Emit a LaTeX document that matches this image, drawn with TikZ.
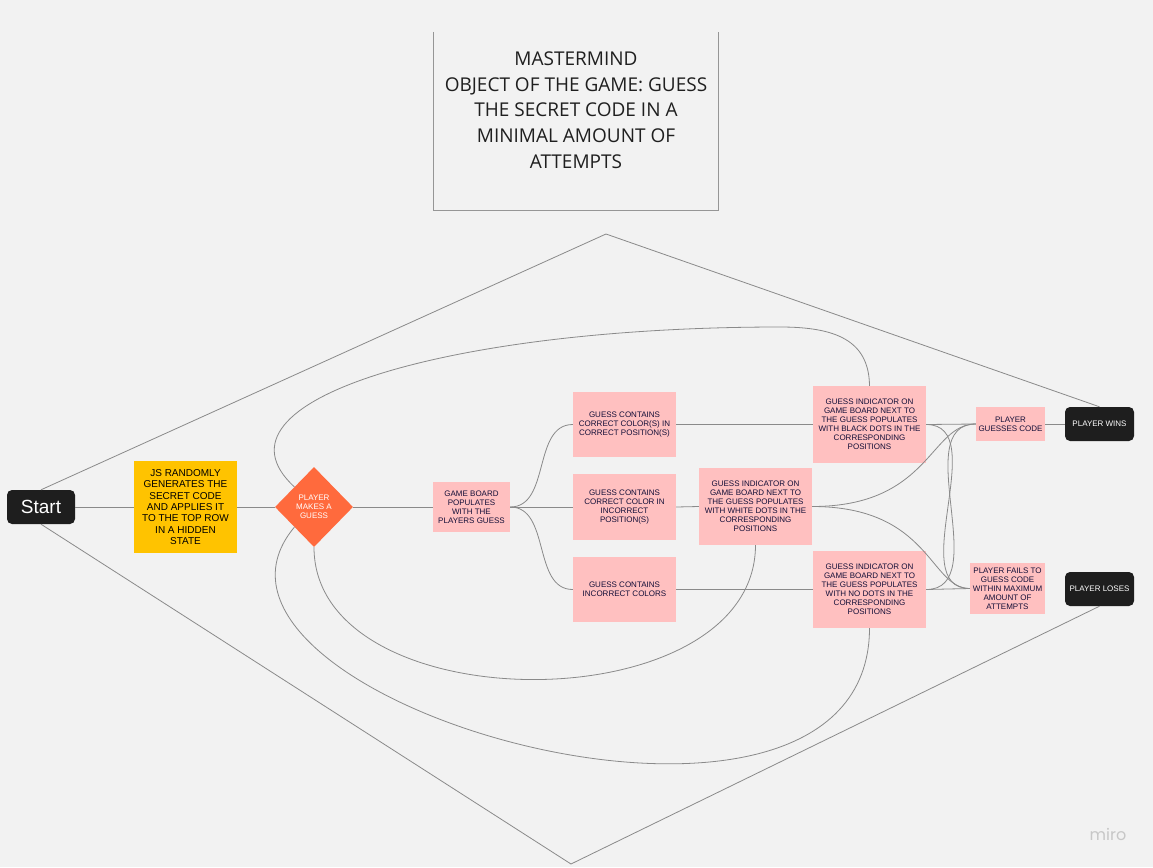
\documentclass[tikz,border=0pt]{standalone}
\usepackage{fontspec}
\setmainfont{Liberation Sans}
\newfontfamily\titlefont{Open Sans}
\newfontfamily\mirofont{Poppins}
\usetikzlibrary{shapes.geometric}
\definecolor{bg}{HTML}{F2F2F2}
\definecolor{pinkc}{HTML}{FFC0C0}
\definecolor{yel}{HTML}{FFC300}
\definecolor{orng}{HTML}{FF6A3D}
\definecolor{blk}{HTML}{1E1E1E}
\definecolor{ink}{HTML}{140F38}
\definecolor{lnc}{HTML}{8A8A8A}
\begin{document}
\begin{tikzpicture}[x=1pt,y=-1pt,
  conn/.style={draw=lnc, line width=0.8pt},
  pinkbox/.style={fill=pinkc, text=ink, font=\fontsize{8}{9}\selectfont, align=center, inner sep=0pt},
  darkbox/.style={fill=blk, text=white, rounded corners=5pt, inner sep=0pt, minimum width=69pt, minimum height=34pt, font=\fontsize{8}{9}\selectfont}
]
\fill[bg] (0,0) rectangle (1153,867);
\useasboundingbox (0,0) rectangle (1153,867);

% title
\node[minimum width=285pt, minimum height=178pt, inner sep=0pt] (frame) at (575.5,121) {};
\draw[draw=lnc!90] (frame.north west) -- (frame.south west) -- (frame.south east) -- (frame.north east);
\node[font=\titlefont\fontsize{19}{25.7}\selectfont, align=center, text=black!88, inner sep=0pt] (title) at (576,110)
  {MASTERMIND\\OBJECT OF THE GAME: GUESS\\THE SECRET CODE IN A\\MINIMAL AMOUNT OF\\ATTEMPTS};

% nodes
\node[fill=blk, text=white, rounded corners=5pt, minimum width=68pt, minimum height=34pt, inner sep=0pt, font=\fontsize{19}{19}\selectfont] (start) at (41,507) {Start};
\node[fill=yel, text=black, minimum width=103pt, minimum height=92pt, inner sep=0pt, align=center, font=\fontsize{10}{11.4}\selectfont] (js) at (185.5,507)
  {JS RANDOMLY\\GENERATES THE\\SECRET CODE\\AND APPLIES IT\\TO THE TOP ROW\\IN A HIDDEN\\STATE};
\node[diamond, fill=orng, text=white, minimum width=78pt, minimum height=80pt, inner sep=0pt, align=center, font=\fontsize{8}{8.8}\selectfont] (guess) at (314,507) {PLAYER\\MAKES A\\GUESS};
\node[pinkbox, minimum width=77pt, minimum height=50pt] (board) at (471.5,507) {GAME BOARD\\POPULATES\\WITH THE\\PLAYERS GUESS};
\node[pinkbox, minimum width=103pt, minimum height=65pt] (cc) at (624.5,424.5) {GUESS CONTAINS\\CORRECT COLOR(S) IN\\CORRECT POSITION(S)};
\node[pinkbox, minimum width=103pt, minimum height=66pt] (ci) at (624.5,507) {GUESS CONTAINS\\CORRECT COLOR IN\\INCORRECT\\POSITION(S)};
\node[pinkbox, minimum width=103pt, minimum height=65pt] (ic) at (624.5,589.5) {GUESS CONTAINS\\INCORRECT COLORS};
\node[pinkbox, minimum width=113pt, minimum height=77pt] (black) at (869.5,424.5) {GUESS INDICATOR ON\\GAME BOARD NEXT TO\\THE GUESS POPULATES\\WITH BLACK DOTS IN THE\\CORRESPONDING\\POSITIONS};
\node[pinkbox, minimum width=113pt, minimum height=77pt] (white) at (755.5,506.5) {GUESS INDICATOR ON\\GAME BOARD NEXT TO\\THE GUESS POPULATES\\WITH WHITE DOTS IN THE\\CORRESPONDING\\POSITIONS};
\node[pinkbox, minimum width=113pt, minimum height=77pt] (nodots) at (869.5,589.5) {GUESS INDICATOR ON\\GAME BOARD NEXT TO\\THE GUESS POPULATES\\WITH NO DOTS IN THE\\CORRESPONDING\\POSITIONS};
\node[pinkbox, minimum width=69pt, minimum height=34pt] (guesses) at (1010.5,424) {PLAYER\\GUESSES CODE};
\node[pinkbox, minimum width=75pt, minimum height=51pt] (fails) at (1007.5,588.5) {PLAYER FAILS TO\\GUESS CODE\\WITHIN MAXIMUM\\AMOUNT OF\\ATTEMPTS};
\node[darkbox] (wins) at (1099.5,424) {PLAYER WINS};
\node[darkbox] (loses) at (1099.5,589) {PLAYER LOSES};

\coordinate (top) at (606,234);
\coordinate (bot) at (571,864);
\coordinate (loopmid) at (780,327);

% connectors
\draw[conn] (start.east) -- (js.west);
\draw[conn] (js.east) -- (guess.west);
\draw[conn] (guess.east) -- (board.west);
\draw[conn] (board.east) to[out=0,in=180] (cc.west);
\draw[conn] (board.east) -- (ci.west);
\draw[conn] (board.east) to[out=0,in=180] (ic.west);
\draw[conn] (cc.east) -- (black.west);
\draw[conn] (ci.east) -- (white.west);
\draw[conn] (ic.east) -- (nodots.west);
\draw[conn] (black.east) -- (guesses.west);
\draw[conn] (black.east) to[out=0,in=180] (fails.west);
\draw[conn] (nodots.east) -- (fails.west);
\draw[conn] (nodots.east) to[out=0,in=180] (guesses.west);
\draw[conn] (white.east) .. controls +(118,0) and +(-46,0) .. (guesses.west);
\draw[conn] (white.east) .. controls +(118,0) and +(-40,0) .. (fails.west);
\draw[conn] (guesses.east) -- (wins.west);
\draw[conn] (start.north) -- (top) -- (wins.north);
\draw[conn] (start.south) -- (bot) -- (loses.south);
\draw[conn] (black.north) .. controls (869,340) and (835,327) .. (loopmid)
  .. controls (450,327) and (200,400) .. (guess.north west);
\draw[conn] (white.south) .. controls (755,724) and (314,724) .. (guess.south);
\draw[conn] (nodots.south) .. controls (869,905) and (150,700) .. (guess.south west);

\node[text=black!22, font=\mirofont\fontsize{16}{16}\selectfont, inner sep=0pt] (miro) at (1108,834) {miro};
\end{tikzpicture}
\end{document}
